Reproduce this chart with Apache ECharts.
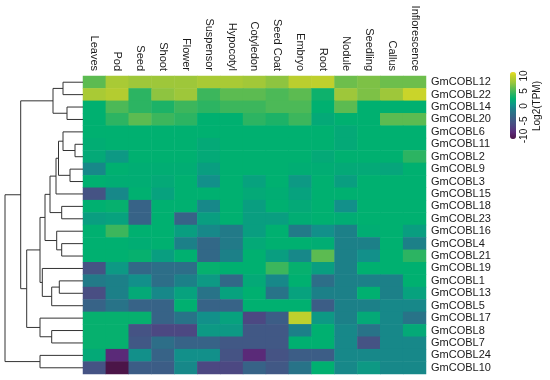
<!DOCTYPE html>
<html>
<head>
<meta charset="utf-8">
<script src="https://cdn.jsdelivr.net/npm/echarts@6/dist/echarts.min.js"></script>
<style>
html,body{margin:0;padding:0;background:#fff;}
#chart{width:550px;height:380px;}
</style>
</head>
<body>
<div id="chart"></div>
<script>
// ---- data ----
const tissues = ["Leaves","Pod","Seed","Shoot","Flower","Suspensor","Hypocotyl","Cotyledon","Seed Coat","Embryo","Root","Nodule","Seedling","Callus","Inflorescence"];
const genes = ["GmCOBL12","GmCOBL22","GmCOBL14","GmCOBL20","GmCOBL6","GmCOBL11","GmCOBL2","GmCOBL9","GmCOBL3","GmCOBL15","GmCOBL18","GmCOBL23","GmCOBL16","GmCOBL4","GmCOBL21","GmCOBL19","GmCOBL1","GmCOBL13","GmCOBL5","GmCOBL17","GmCOBL8","GmCOBL7","GmCOBL24","GmCOBL10"];
// log2(TPM), one row per gene, columns in tissue order
const values = [
  [5, 7.5, 7, 7, 7, 7.5, 7.5, 7.2, 6.5, 8.3, 8.5, 5.5, 6, 5.5, 5.5],
  [7.5, 8, 3.5, 6.5, 7, 4, 5, 5, 4.5, 5, 2.5, 7, 6, 7, 9],
  [2, 4.5, 3.5, 3, 4, 3.5, 4, 4, 4.5, 4.5, 2, 5, 2, 2, 2],
  [2, 3.5, 5, 4, 3.5, 2, 2, 3.5, 3, 4, 1.5, 2, 2, 5, 5],
  [2, 2, 2, 2, 2, 2, 2, 2, 2, 2, 2, 1.5, 2, 2, 2],
  [1.8, 2, 2, 2, 2, 1.5, 2, 2, 2, 2, 2, 1.5, 2, 2, 2],
  [1.5, 0.5, 2, 2, 2, 1.5, 2, 2, 2, 2, 1.5, 2, 2, 2, 3.5],
  [-0.5, 2, 1.8, 1.8, 1.8, 0.8, 2, 2, 2, 1.8, 1.8, 1.5, 1.5, 1.2, 2],
  [2, 1.8, 1.8, 1.5, 2, 0, 2, 1, 2, 0.5, 2, 0.8, 2, 2, 2],
  [-5, -0.5, 2, 1, 2, 2, 2, 1.5, 1.8, 1, 2, 2, 2, 2, 2],
  [2, 2.2, -3.5, 2, 2, -0.5, 2, 0.8, 2, 1.5, 2, 0, 2, 2, 2],
  [0.8, 1, -3.5, 2, -3.5, 0.8, 2, 0.8, 0.8, 1.8, 2, 1.8, 2, 2, 2],
  [2, 4, 2, 2, 0.8, -0.5, -1.5, 0.8, 2, -1.5, 0, -1, 1.8, 2, 0.8],
  [2, 2, 1.8, 2, -1, -3, -1.5, 1.5, 2, 2, 1.8, -1, -1, 2, -1],
  [2, 2, 2.2, 0.8, 2, -3, -1, 2, 0.8, -0.5, 5, -1, 0, 2, 3.5],
  [-5, 0.5, -3, -2.5, -2.5, 2.2, 2, 2, 4, 2.2, 0.8, -1, 2, 2, 2],
  [-1.5, -1, 0, -2.5, -1, 0.5, -3, 1.5, -0.5, 2, -2.5, -1, -1, -1, 2],
  [-5.5, -1, 1.5, -0.5, 1, -2, 1, 2, -2, 1, -1, -1, 2, -1, 1],
  [-3.5, -2, -3.5, -3.5, 2, -3.5, -3.5, 2, 2, 2, -4, -1, -1, -0.5, -0.5],
  [2.2, 2.2, 2.2, -3.5, -2, 0, 1, -6, -4, 8.5, 0.5, -1, 1.5, -0.5, -2],
  [2.2, 2.2, -5, -6, -6, 0.5, 0.5, -4.5, -4.5, -1, 2, -0.5, -2, -0.5, 1.5],
  [2.2, 2.2, -4.5, -2.5, -3.5, -3.5, -4.5, -4.5, -4.5, 2, 2, -0.5, -5, -0.5, -0.5],
  [1.5, -8, 0, -3.5, 0, 0, -5, -8, -5, -4, -4, -0.5, -0.5, -0.5, -0.5],
  [-5, -10, -4, -4, -0.5, -6, -6, -3.5, -4.5, -2, 2, -0.5, 0.5, -0.5, -0.5]
];
// dendrogram merges: [childA, childB, height]; leaves are 0..23, merge k creates node 24+k
const merges = [
  [0, 1, 20], [2, 3, 16], [24, 25, 30],
  [5, 6, 8], [4, 27, 20], [7, 8, 13], [28, 29, 24.5], [30, 9, 27],
  [10, 11, 21.3], [31, 32, 33], [13, 14, 21.3], [12, 34, 26.3], [33, 35, 38],
  [16, 17, 23.7], [37, 18, 31.3], [15, 38, 40.7], [36, 39, 43],
  [20, 21, 31.3], [19, 41, 43], [40, 42, 56.3], [26, 43, 62.3],
  [22, 23, 43], [44, 45, 78]
];
const colorbarMin = -10, colorbarMax = 10, colorbarStep = 5;
const palette = ["#4b1548","#54205f","#5a2a78","#543a7e","#4c4882","#455384","#3c5d86","#326887","#287388","#1c8088","#12908a","#07a27e","#00b070","#1cb267","#3cb65c","#5cbb51","#7dc146","#9ec73a","#b4cc30","#cad42a","#eee11e"];

// ---- build ----
const heatData = [];
values.forEach((row, r) => row.forEach((v, c) => heatData.push([c, r, v])));

const nodeY = genes.map((g, i) => i);
const nodeH = genes.map(() => 0);
const dendroData = [];
merges.forEach(([a, b, h]) => {
  dendroData.push([h, nodeY[a], nodeH[a], nodeY[b], nodeH[b]]);
  nodeY.push((nodeY[a] + nodeY[b]) / 2);
  nodeH.push(h);
});

const FONT = "'Liberation Sans', Arial, sans-serif";
const HEAT = {left: 83, top: 76, width: 343, height: 298};

const chart = echarts.init(document.getElementById('chart'), null, {renderer: 'canvas'});
chart.setOption({
  animation: false,
  backgroundColor: '#fff',
  textStyle: {fontFamily: FONT},
  grid: [
    {left: HEAT.left, top: HEAT.top, width: HEAT.width, height: HEAT.height},
    {left: 3, top: HEAT.top, width: 80, height: HEAT.height},
    {left: 510, top: 76, width: 6, height: 60}
  ],
  xAxis: [
    {type: 'category', gridIndex: 0, data: tissues, position: 'top',
     axisLine: {show: false}, axisTick: {show: false}, splitLine: {show: false},
     axisLabel: {rotate: 90, interval: 0, fontSize: 11, color: '#1a1a1a', margin: 5, fontFamily: FONT,
                 align: 'right', verticalAlign: 'middle'}},
    {type: 'value', gridIndex: 1, min: 0, max: 80, inverse: true, show: false},
    {type: 'value', gridIndex: 2, min: 0, max: 1, show: false}
  ],
  yAxis: [
    {type: 'category', gridIndex: 0, data: genes, inverse: true, position: 'right',
     axisLine: {show: false}, axisTick: {show: false}, splitLine: {show: false},
     axisLabel: {interval: 0, fontSize: 11, color: '#1a1a1a', margin: 5, fontFamily: FONT}},
    {type: 'value', gridIndex: 1, min: -0.5, max: genes.length - 0.5, inverse: true, show: false},
    {type: 'value', gridIndex: 2, min: colorbarMin, max: colorbarMax, interval: colorbarStep, position: 'right',
     axisLine: {show: false}, axisTick: {show: false}, splitLine: {show: false},
     axisLabel: {rotate: 90, fontSize: 10, color: '#1a1a1a', margin: 3, fontFamily: FONT},
     name: 'Log2(TPM)', nameLocation: 'middle', nameRotate: 90, nameGap: 16,
     nameTextStyle: {fontSize: 10, color: '#1a1a1a', fontFamily: FONT}}
  ],
  visualMap: {
    type: 'continuous', min: colorbarMin, max: colorbarMax, seriesIndex: 0,
    calculable: false, hoverLink: false, show: true,
    left: 510, top: 72, itemWidth: 6, itemHeight: 67, padding: 0,
    text: null, inRange: {color: palette}
  },
  series: [
    {type: 'heatmap', xAxisIndex: 0, yAxisIndex: 0, data: heatData,
     itemStyle: {borderWidth: 0}, progressive: 0},
    {type: 'custom', xAxisIndex: 1, yAxisIndex: 1, data: dendroData,
     encode: {x: [0, 2, 4], y: [1, 3]},
     renderItem: function (params, api) {
       const h = api.value(0), ya = api.value(1), ha = api.value(2), yb = api.value(3), hb = api.value(4);
       const p1 = api.coord([ha, ya]), p2 = api.coord([h, ya]), p3 = api.coord([h, yb]), p4 = api.coord([hb, yb]);
       return {type: 'polyline', shape: {points: [p1, p2, p3, p4]},
               style: {stroke: '#333', lineWidth: 1, fill: null}};
     }}
  ]
});
</script>
</body>
</html>
